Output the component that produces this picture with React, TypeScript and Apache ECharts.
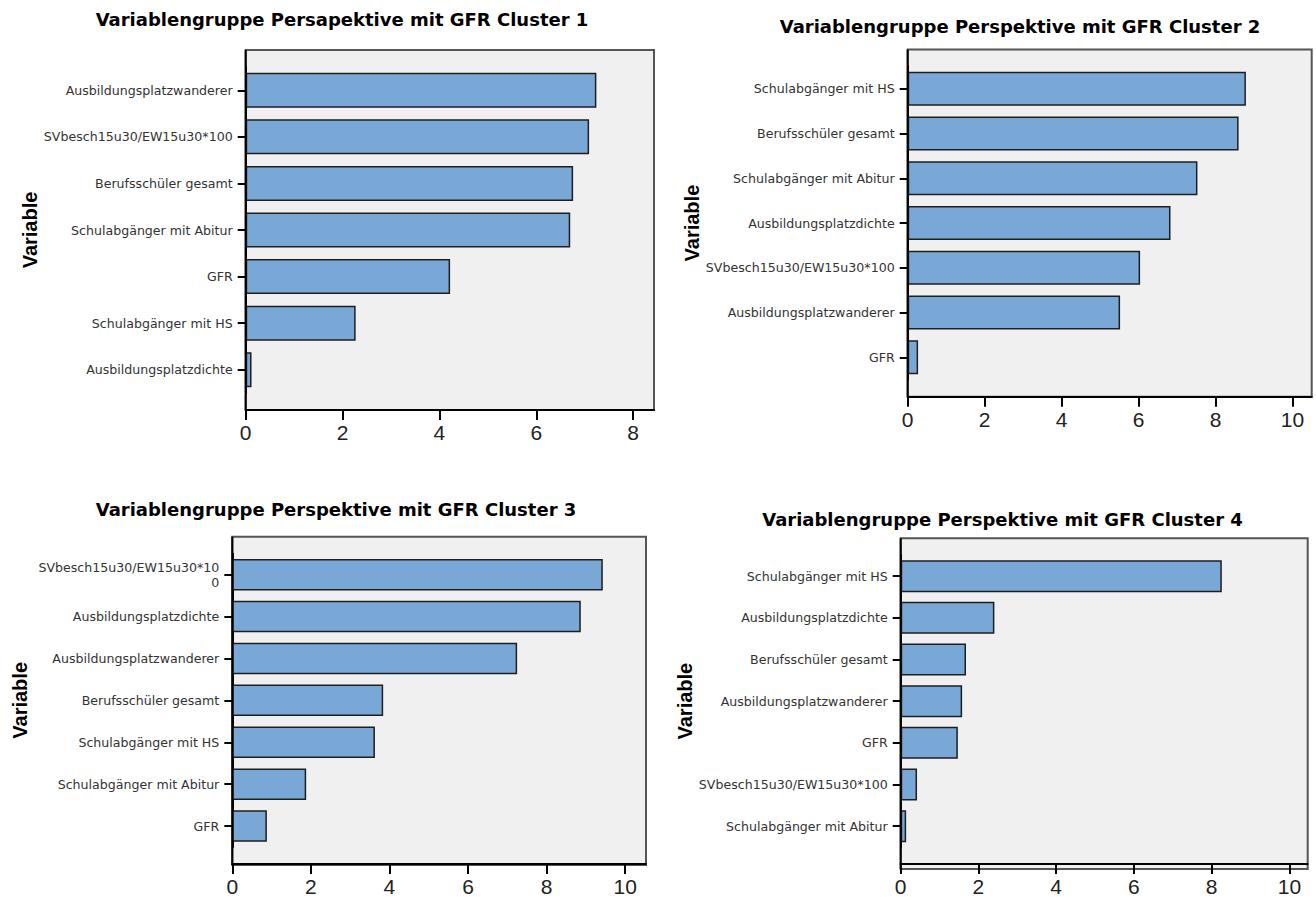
import React, { useEffect, useRef } from "react";
import * as echarts from "echarts";

// Cluster 1
const categories1 = [
  "Ausbildungsplatzwanderer",
  "SVbesch15u30/EW15u30*100",
  "Berufsschüler gesamt",
  "Schulabgänger mit Abitur",
  "GFR",
  "Schulabgänger mit HS",
  "Ausbildungsplatzdichte",
];
const values1 = [7.24, 7.09, 6.76, 6.7, 4.22, 2.27, 0.12];

// Cluster 2
const categories2 = [
  "Schulabgänger mit HS",
  "Berufsschüler gesamt",
  "Schulabgänger mit Abitur",
  "Ausbildungsplatzdichte",
  "SVbesch15u30/EW15u30*100",
  "Ausbildungsplatzwanderer",
  "GFR",
];
const values2 = [8.79, 8.6, 7.53, 6.83, 6.04, 5.52, 0.27];

// Cluster 3
const categories3 = [
  "SVbesch15u30/EW15u30*100",
  "Ausbildungsplatzdichte",
  "Ausbildungsplatzwanderer",
  "Berufsschüler gesamt",
  "Schulabgänger mit HS",
  "Schulabgänger mit Abitur",
  "GFR",
];
const values3 = [9.43, 8.87, 7.25, 3.84, 3.63, 1.88, 0.88];

// Cluster 4
const categories4 = [
  "Schulabgänger mit HS",
  "Ausbildungsplatzdichte",
  "Berufsschüler gesamt",
  "Ausbildungsplatzwanderer",
  "GFR",
  "SVbesch15u30/EW15u30*100",
  "Schulabgänger mit Abitur",
];
const values4 = [8.26, 2.41, 1.68, 1.58, 1.47, 0.42, 0.14];

const titles = [
  "Variablengruppe Persapektive mit GFR Cluster 1",
  "Variablengruppe Perspektive mit GFR Cluster 2",
  "Variablengruppe Perspektive mit GFR Cluster 3",
  "Variablengruppe Perspektive mit GFR Cluster 4",
];
const axisName = "Variable";

const xTicks1 = [0, 2, 4, 6, 8];
const xTicks2 = [0, 2, 4, 6, 8, 10];
const xTicks3 = [0, 2, 4, 6, 8, 10];
const xTicks4 = [0, 2, 4, 6, 8, 10];
const xMax = [8.43, 10.5, 10.53, 10.47];

const allCategories = [categories1, categories2, categories3, categories4];
const allValues = [values1, values2, values3, values4];
const allTicks = [xTicks1, xTicks2, xTicks3, xTicks4];

// Panel geometry (plot frame, bar thickness, title anchor, axis-name gap)
const panels = [
  { x: 245.7, y: 50, w: 408.3, h: 360, bar: 35, tx: 342, ty: 20, nameGap: 206, labelWidth: 0 },
  { x: 907.7, y: 49.5, w: 404, h: 347.2, bar: 34, tx: 1020, ty: 27, nameGap: 201, labelWidth: 0 },
  { x: 232.3, y: 536.7, w: 413.7, h: 328.3, bar: 31.5, tx: 336, ty: 510, nameGap: 202, labelWidth: 184 },
  { x: 900.7, y: 538.3, w: 407, h: 330.7, bar: 32, tx: 1002.5, ty: 520, nameGap: 205, labelWidth: 0 },
];
const PAD = 17;

const BAR_COLOR = "#7AA8D6";
const PLOT_BG = "#F0F0F0";

export default function App() {
  const ref = useRef<HTMLDivElement>(null);

  useEffect(() => {
    if (!ref.current) return;
    const chart = echarts.init(ref.current, undefined, { renderer: "svg" });

    const grid = panels.map((p) => ({
      left: p.x,
      top: p.y + PAD,
      width: p.w,
      height: p.h - 2 * PAD,
      containLabel: false,
    }));

    const xAxis = panels.map((p, i) => ({
      gridIndex: i,
      type: "value",
      min: 0,
      max: xMax[i],
      offset: PAD,
      splitLine: { show: false },
      axisLine: { show: true, lineStyle: { color: "#000", width: 2 } },
      axisTick: {
        show: true,
        length: 10,
        customValues: allTicks[i],
        lineStyle: { color: "#000", width: 2 },
      },
      axisLabel: {
        customValues: allTicks[i],
        fontFamily: "Liberation Sans",
        fontSize: 21,
        color: "#222",
        margin: 12,
      },
    }));

    const yAxis = panels.map((p, i) => ({
      gridIndex: i,
      type: "category",
      data: allCategories[i],
      inverse: true,
      name: axisName,
      nameLocation: "middle",
      nameRotate: 90,
      nameGap: p.nameGap,
      nameTextStyle: {
        fontFamily: "Liberation Sans",
        fontWeight: "bold",
        fontSize: 20,
        color: "#000",
      },
      axisLine: { show: true, lineStyle: { color: "#000", width: 2 } },
      axisTick: {
        show: true,
        alignWithLabel: true,
        interval: 0,
        length: 8,
        lineStyle: { color: "#000", width: 2 },
      },
      axisLabel: {
        interval: 0,
        fontFamily: "DejaVu Sans",
        fontSize: 12.6,
        lineHeight: 15,
        color: "#333",
        margin: 13,
        ...(p.labelWidth ? { width: p.labelWidth, overflow: "breakAll" } : {}),
      },
    }));

    const series = panels.map((p, i) => ({
      type: "bar",
      xAxisIndex: i,
      yAxisIndex: i,
      data: allValues[i],
      barWidth: p.bar,
      itemStyle: { color: BAR_COLOR, borderColor: "#1e1e1e", borderWidth: 1.5 },
    }));

    const title = panels.map((p, i) => ({
      text: titles[i],
      left: p.tx,
      top: p.ty - 10,
      textAlign: "center",
      padding: 0,
      textStyle: {
        fontFamily: "DejaVu Sans",
        fontWeight: "bold",
        fontSize: 18,
        color: "#000",
      },
    }));

    const graphic: any[] = [];
    panels.forEach((p) => {
      graphic.push({
        type: "rect",
        z: -10,
        shape: { x: p.x, y: p.y, width: p.w, height: p.h },
        style: { fill: PLOT_BG, stroke: "#555", lineWidth: 2 },
      });
      graphic.push({
        type: "line",
        z: 10,
        shape: { x1: p.x, y1: p.y, x2: p.x, y2: p.y + p.h },
        style: { stroke: "#000", lineWidth: 2 },
      });
    });

    chart.setOption({
      animation: false,
      backgroundColor: "#fff",
      title,
      grid,
      xAxis,
      yAxis,
      series,
      graphic,
    } as any);

    return () => chart.dispose();
  }, []);

  return (
    <div
      ref={ref}
      style={{ position: "absolute", left: 0, top: 0, width: 1316, height: 897 }}
    />
  );
}
